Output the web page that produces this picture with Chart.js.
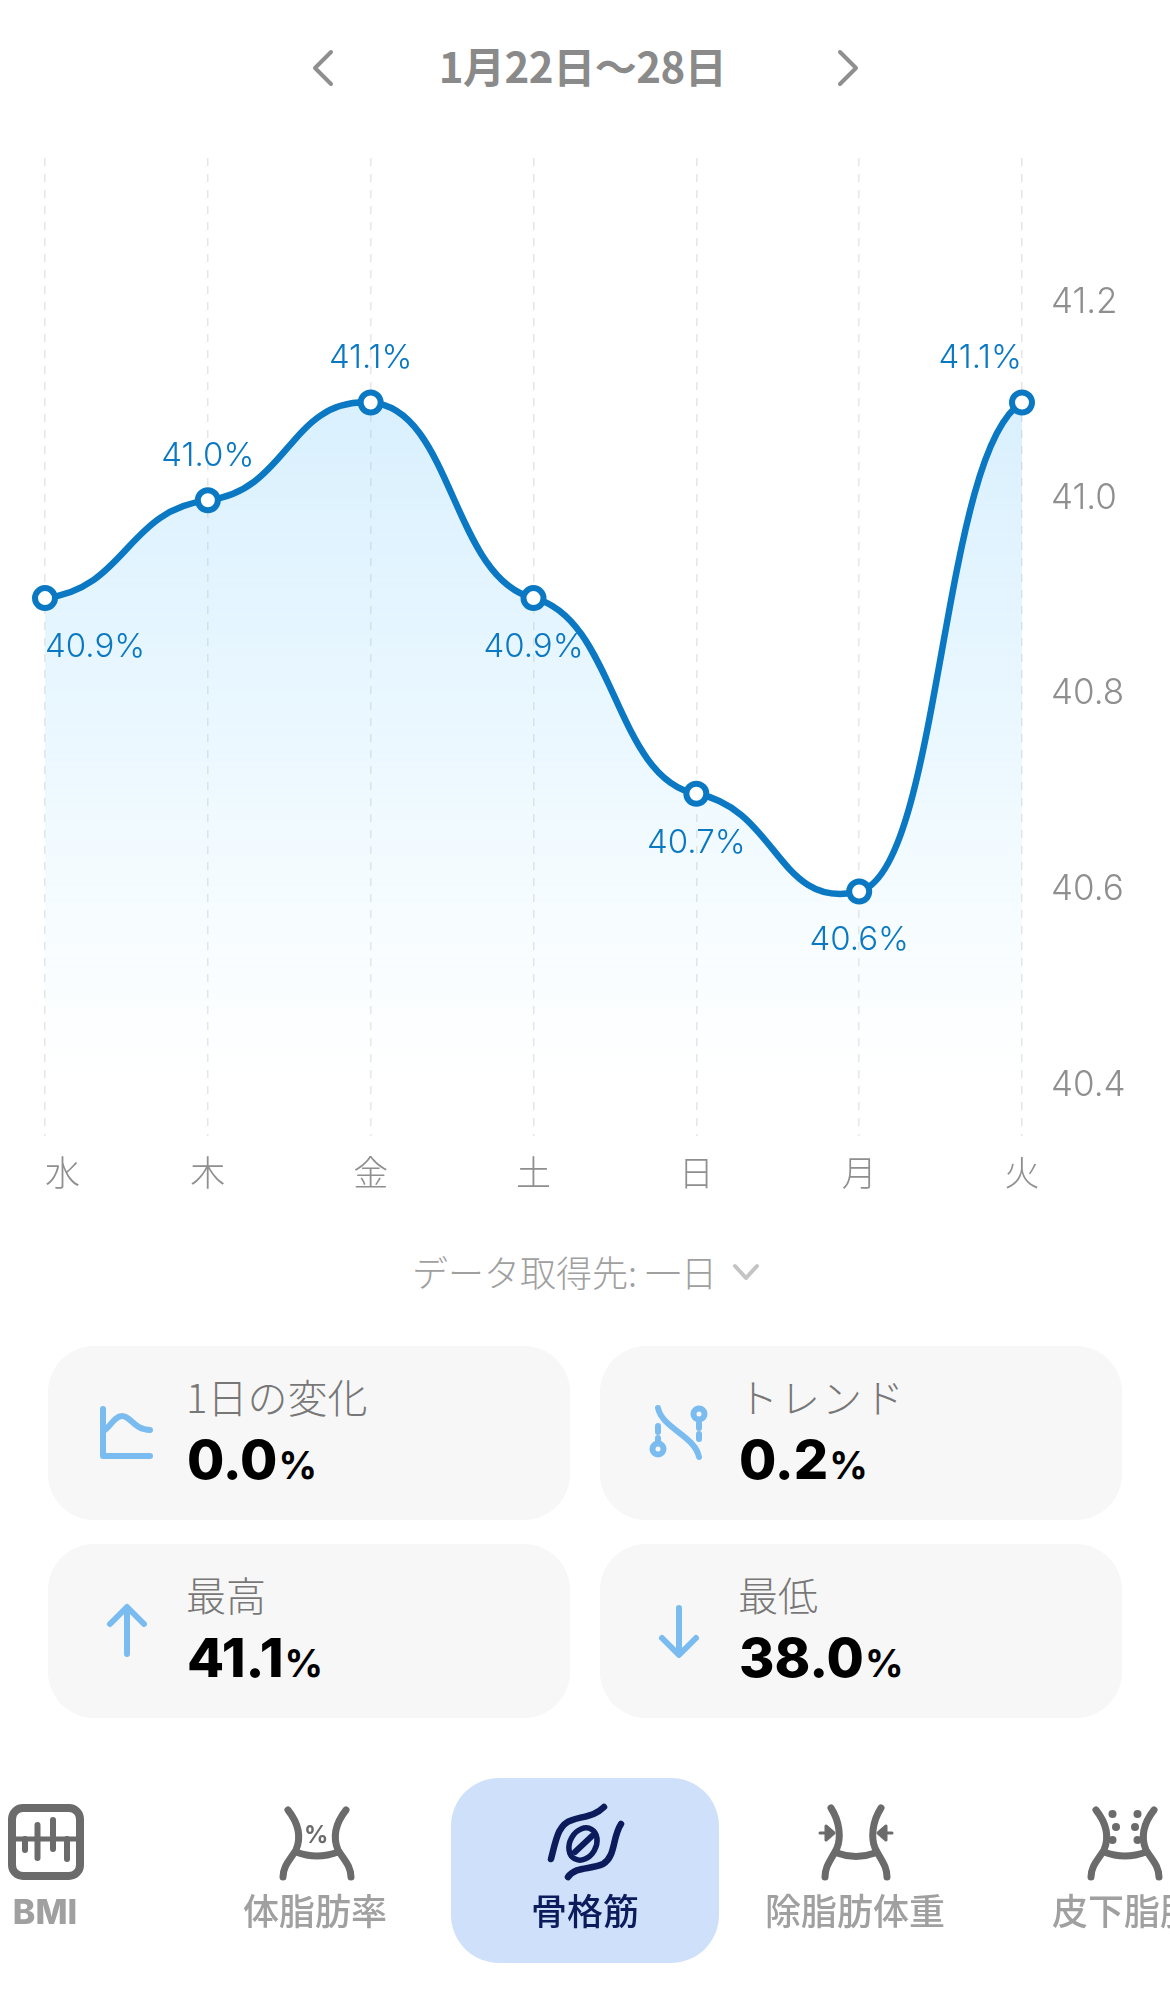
<!DOCTYPE html>
<html lang="ja">
<head>
<meta charset="utf-8">
<title>骨格筋</title>
<script src="https://cdn.jsdelivr.net/npm/chart.js@4.4.1/dist/chart.umd.min.js"></script>
<style>
  html, body { margin: 0; padding: 0; background: #fff; }
  body { position: relative; width: 1170px; height: 2003px; overflow: hidden; font-family: "Noto Sans CJK JP", "Noto Sans", sans-serif; }
  #chart { position: absolute; left: 0; top: 0; }
  .abs { position: absolute; white-space: nowrap; }
  #title { left: 0; width: 1165px; top: 35px; text-align: center; font-size: 42px; line-height: 60px; font-weight: 700; color: #8a8a8a; letter-spacing: -0.5px; }
  #source { left: 412px; top: 1245px; font-size: 36px; line-height: 52px; font-weight: 300; color: #a0a0a0; }
  .card { position: absolute; width: 522px; height: 174px; background: #f7f7f7; border-radius: 46px; }
  .card .name { position: absolute; left: 138px; top: 22px; font-size: 40px; line-height: 56px; font-weight: 300; color: #777; white-space: nowrap; }
  .card .val { position: absolute; left: 139px; top: 84px; font-family: Inter, sans-serif; font-size: 54px; line-height: 60px; font-weight: 800; color: #000; white-space: nowrap; }
  .card .val span { font-size: 38px; font-weight: 700; margin-left: 1px; }
  .tab { position: absolute; top: 1883px; font-size: 36px; line-height: 52px; font-weight: 500; color: #a0a0a0; white-space: nowrap; transform: translateX(-50%); }
  #tabActive { position: absolute; left: 451px; top: 1778px; width: 268px; height: 185px; background: #cfe0fa; border-radius: 48px; }
  svg.abs { overflow: visible; }
</style>
</head>
<body>
<div class="abs" id="title">1月22日〜28日</div>
<svg class="abs" style="left:311px;top:50px" width="24" height="36" fill="none" stroke="#8f8f8f" stroke-width="4" stroke-linecap="round" stroke-linejoin="round"><path d="M20 2 L4 18 L20 34"/></svg>
<svg class="abs" style="left:836px;top:50px" width="24" height="36" fill="none" stroke="#8f8f8f" stroke-width="4" stroke-linecap="round" stroke-linejoin="round"><path d="M4 2 L20 18 L4 34"/></svg>

<canvas id="chart" width="1170" height="1240"></canvas>

<div class="abs" id="source">データ取得先: 一日</div>
<svg class="abs" style="left:732px;top:1263px" width="28" height="18" fill="none" stroke="#c4c4c4" stroke-width="4" stroke-linecap="round" stroke-linejoin="round"><path d="M3 3 L14 15 L25 3"/></svg>

<div class="card" style="left:48px;top:1346px"><div class="name">1日の変化</div><div class="val">0.0<span>%</span></div></div>
<div class="card" style="left:600px;top:1346px"><div class="name" style="letter-spacing:2px">トレンド</div><div class="val">0.2<span>%</span></div></div>
<div class="card" style="left:48px;top:1544px"><div class="name">最高</div><div class="val">41.1<span>%</span></div></div>
<div class="card" style="left:600px;top:1544px"><div class="name">最低</div><div class="val">38.0<span>%</span></div></div>

<svg class="abs" style="left:0;top:0" width="1170" height="2003" fill="none" stroke="#7bbcf0" stroke-width="6" stroke-linecap="round" stroke-linejoin="round">
  <path d="M103 1409 V1456 H150"/>
  <path d="M103 1431 C110 1428 114 1416 122 1416 C131 1416 134 1430 150 1430"/>
  <path d="M658 1408 C662 1428 695 1436 699 1457"/>
  <circle cx="658" cy="1449" r="5.5"/>
  <circle cx="699" cy="1414" r="5.5"/>
  <path d="M658 1426 V1432 M658 1438 V1441"/>
  <path d="M699 1423 V1428 M699 1434 V1439"/>
  <path d="M127 1608 V1654 M110 1624 L127 1607 L144 1624"/>
  <path d="M679 1608 V1654 M662 1638 L679 1655 L696 1638"/>
</svg>

<div id="tabActive"></div>
<svg class="abs" style="left:0;top:0" width="1170" height="2003" fill="none" stroke="#6b6b6b" stroke-width="7" stroke-linecap="round" stroke-linejoin="round">
  <rect x="12" y="1808" width="68" height="68" rx="11" stroke-width="8"/>
  <path d="M14 1839 H78" stroke-width="5"/>
  <path d="M25 1839 V1850 M37.5 1825 V1858 M53 1820 V1849 M67 1839 V1859" stroke-width="6"/>

  <g id="waist">
    <path d="M288 1810 C299 1824 301 1838 296 1850 C290 1860 283 1866 283 1877"/>
    <path d="M346 1810 C335 1824 333 1838 338 1850 C344 1860 351 1866 351 1877"/>
    <path d="M296 1852 Q317 1860 338 1852"/>
  </g>
  <path d="M831 1808 C840 1822 841 1838 837 1848 C831 1860 825 1866 825 1877"/>
  <path d="M881 1808 C872 1822 871 1838 875 1848 C881 1860 887 1866 887 1877"/>
  <path d="M837 1853 Q856 1860 875 1853"/>
  <g fill="#6b6b6b" stroke-width="3">
    <path d="M820 1833 H830 M826 1826 L834 1833 L826 1840 Z"/>
    <path d="M892 1833 H882 M886 1826 L878 1833 L886 1840 Z"/>
  </g>
  <g transform="translate(808,0)">
    <path d="M288 1810 C299 1824 301 1838 296 1850 C290 1860 283 1866 283 1877"/>
    <path d="M346 1810 C335 1824 333 1838 338 1850 C344 1860 351 1866 351 1877"/>
    <path d="M296 1852 Q317 1860 338 1852"/>
  </g>
  <g fill="#6b6b6b" stroke="none">
    <circle cx="1112.5" cy="1814" r="4"/><circle cx="1116" cy="1827" r="4"/><circle cx="1112.5" cy="1840" r="4"/>
    <circle cx="1137.5" cy="1814" r="4"/><circle cx="1135" cy="1827" r="4"/><circle cx="1137.5" cy="1840" r="4"/>
  </g>
  <g stroke="#0c1b5c" stroke-width="6.5">
    <path d="M551 1859 C556 1840 558 1824 572 1820 C585 1816 595 1816 604 1807"/>
    <path d="M568 1877 C576 1866 590 1870 603 1864 C616 1856 612 1838 621 1824"/>
    <ellipse cx="583" cy="1844" rx="13" ry="17" transform="rotate(30 583 1844)" stroke-width="5.5"/>
    <path d="M575 1852 L592 1836" stroke-width="6"/>
  </g>
</svg>
<div class="abs" style="left:304px;top:1820px;font:700 24px Inter,sans-serif;color:#6b6b6b">%</div>

<div class="tab" style="left:45px;top:1886px;font-family:Inter,sans-serif;font-weight:800;font-size:34px">BMI</div>
<div class="tab" style="left:315px">体脂肪率</div>
<div class="tab" style="left:585px;color:#0c1b5c">骨格筋</div>
<div class="tab" style="left:855px">除脂肪体重</div>
<div class="tab" style="left:1124px">皮下脂肪</div>

<script>
const categories = ['水', '木', '金', '土', '日', '月', '火'];
const values = [40.9, 41.0, 41.1, 40.9, 40.7, 40.6, 41.1];
const yTicks = [40.4, 40.6, 40.8, 41.0, 41.2];
const yMin = 40.35;
const yMax = 41.35;

const LINE_BLUE = '#0a78c2';
const TICK_GREY = '#8f8f8f';
const JP_LIGHT = '"Noto Sans CJK JP", sans-serif';
const NUM_LIGHT = 'Inter, sans-serif';

// the source curve is much flatter at each point than Chart.js tension gives,
// so rework the control points from the pixel positions the scales produced
const flatCurve = {
  id: 'flatCurve',
  afterDatasetsUpdate(chart) {
    const meta = chart.getDatasetMeta(0);
    meta.dataset.updateControlPoints(chart.chartArea);
    const pts = meta.data;
    pts.forEach((p, i) => {
      const prev = pts[i - 1] || p;
      const next = pts[i + 1] || p;
      const slope = 0.2 * (next.y - prev.y) / (next.x - prev.x);
      const dxL = (p.x - prev.x) * 0.5;
      const dxR = (next.x - p.x) * 0.5;
      p.cp1x = p.x - dxL;
      p.cp1y = p.y - slope * dxL;
      p.cp2x = p.x + dxR;
      p.cp2y = p.y + slope * dxR;
    });
  }
};

// first weekday label starts at its grid line instead of being centred on it
const firstTickLeft = {
  id: 'firstTickLeft',
  beforeDraw(chart) {
    const items = chart.scales.x.getLabelItems();
    if (items.length) items[0].options.textAlign = 'left';
  }
};

const valueLabels = {
  id: 'valueLabels',
  afterDatasetsDraw(chart) {
    const { ctx } = chart;
    const pts = chart.getDatasetMeta(0).data;
    ctx.save();
    ctx.font = '300 33px ' + NUM_LIGHT;
    ctx.fillStyle = LINE_BLUE;
    ctx.textBaseline = 'middle';
    pts.forEach((p, i) => {
      const above = values[i] >= 41.0;
      ctx.textAlign = i === 0 ? 'left' : i === pts.length - 1 ? 'right' : 'center';
      ctx.fillText(values[i].toFixed(1) + '%', p.x, p.y + (above ? -44 : 49));
    });
    ctx.restore();
  }
};

new Chart(document.getElementById('chart'), {
  type: 'line',
  data: {
    labels: categories,
    datasets: [{
      data: values,
      borderColor: LINE_BLUE,
      borderWidth: 6.5,
      tension: 0.4,
      clip: false,
      fill: 'start',
      backgroundColor(c) {
        const { chart } = c;
        if (!chart.chartArea) return 'transparent';
        const top = chart.scales.y.getPixelForValue(values[2]);
        const g = chart.ctx.createLinearGradient(0, top, 0, 1080);
        g.addColorStop(0, 'rgba(120,200,250,0.28)');
        g.addColorStop(0.5, 'rgba(130,210,255,0.16)');
        g.addColorStop(1, 'rgba(150,220,255,0)');
        return g;
      },
      pointRadius: 10,
      pointBorderWidth: 6,
      pointBackgroundColor: '#fff',
      pointBorderColor: LINE_BLUE
    }]
  },
  options: {
    responsive: false,
    animation: false,
    layout: { padding: { left: 45, top: 158 } },
    plugins: { legend: { display: false }, tooltip: { enabled: false } },
    scales: {
      x: {
        grid: { color: '#e6e6e6', lineWidth: 1.5, drawTicks: false },
        border: { display: false, dash: [8, 8] },
        ticks: {
          color: TICK_GREY,
          padding: 16,
          maxRotation: 0,
          autoSkip: false,
          font: { family: JP_LIGHT, size: 35, weight: '300' }
        },
        afterFit(scale) { scale.height = 104; }
      },
      y: {
        position: 'right',
        min: yMin,
        max: yMax,
        grid: { display: false },
        border: { display: false },
        afterBuildTicks(scale) { scale.ticks = yTicks.map(v => ({ value: v })); },
        ticks: {
          color: TICK_GREY,
          padding: 21,
          labelOffset: -2,
          callback: v => v.toFixed(1),
          font: { family: NUM_LIGHT, size: 35, weight: '300' }
        },
        afterFit(scale) { scale.width = 148; }
      }
    }
  },
  plugins: [flatCurve, firstTickLeft, valueLabels]
});
</script>
</body>
</html>
